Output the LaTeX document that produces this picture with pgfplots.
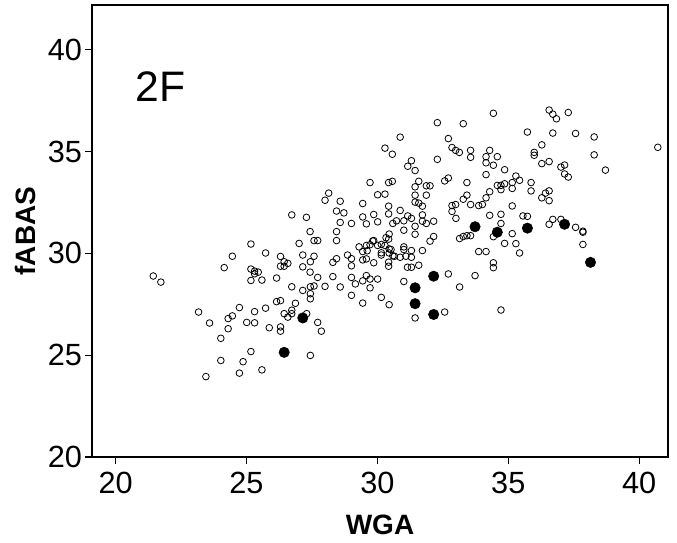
\documentclass[border=0pt]{standalone}
\usepackage{pgfplots}
\pgfplotsset{compat=1.18}
\usepackage{fontspec}
\setmainfont{Liberation Sans}
\usetikzlibrary{calc}
\begin{document}
\begin{tikzpicture}
\begin{axis}[
  scale only axis, width=432pt, height=339pt,
  xmin=19.1, xmax=41.1, ymin=20, ymax=42.2,
  xtick={20,25,30,35,40}, ytick={20,25,30,35,40},
  tick align=outside, xtick pos=bottom, ytick pos=left,
  major tick length=5pt,
  tick style={black, line width=0.8pt},
  axis line style={line width=0.8pt},
  ticklabel style={font=\fontsize{23}{23}\selectfont},
  xticklabel style={yshift=-3pt},
  yticklabel style={xshift=1pt},
  /pgf/number format/assume math mode=true,
  xlabel={\textbf{WGA}}, ylabel={\textbf{fABAS}},
  label style={font=\fontsize{21}{21}\selectfont},
  xlabel style={yshift=-9pt},
  ylabel style={yshift=2pt},
  clip=false,
]
\addplot[only marks, mark=o, mark size=2.5pt, mark options={line width=0.6pt, black}] coordinates {
(36.56,37.04) (36.70,36.84) (36.84,36.61) (37.29,36.92) (34.43,36.88) (32.29,36.42) (33.28,36.37)
(35.73,35.96) (36.70,35.91) (37.57,35.89) (38.28,35.72) (30.87,35.71) (32.71,35.64) (40.71,35.21)
(36.28,35.33) (30.29,35.17) (32.85,35.20) (32.99,35.06) (33.13,34.96) (33.56,35.06) (33.56,34.72)
(34.29,35.06) (34.15,34.75) (34.58,34.75) (35.99,34.96) (35.99,34.82) (38.28,34.84) (30.57,34.87)
(32.29,34.62) (31.30,34.55) (31.16,34.28) (31.44,34.07) (34.15,34.45) (34.43,34.33) (36.28,34.41)
(36.56,34.51) (37.01,34.24) (37.15,34.34) (38.71,34.09) (34.86,34.11) (34.15,33.87) (37.15,33.90)
(37.29,33.75) (32.57,33.56) (32.71,33.70) (35.29,33.80) (35.43,33.59) (29.72,33.48) (30.43,33.48)
(30.57,33.54) (31.58,33.54) (33.42,33.48) (35.15,33.48) (35.87,33.48) (34.58,33.34) (34.72,33.34)
(34.86,33.42) (34.29,33.03) (35.15,33.19) (31.44,33.27) (31.87,33.32) (32.01,33.32) (34.72,33.13)
(35.87,33.07) (36.56,33.07) (36.42,32.96) (28.14,32.96) (30.01,32.88) (30.29,32.91) (31.44,32.86)
(31.87,32.86) (33.42,32.86) (33.28,32.66) (34.15,32.73) (36.28,32.73) (36.56,32.59) (28.00,32.61)
(28.58,32.56) (31.44,32.52) (31.58,32.47) (31.72,32.32) (29.44,32.45) (30.43,32.32) (32.85,32.35)
(32.99,32.40) (33.56,32.40) (33.87,32.35) (34.01,32.40) (35.15,32.33) (28.44,32.08) (28.72,31.99)
(30.87,32.11) (32.85,32.06) (30.43,31.94) (31.16,31.84) (31.30,31.72) (31.72,31.89) (26.73,31.89)
(27.29,31.77) (29.44,31.79) (29.86,31.91) (34.29,31.87) (34.72,31.92) (35.56,31.84) (35.73,31.82)
(33.00,31.72) (30.73,31.60) (31.01,31.60) (30.59,31.47) (28.58,31.52) (29.01,31.47) (29.58,31.45)
(30.01,31.55) (31.72,31.58) (31.87,31.47) (32.15,31.58) (36.70,31.67) (36.56,31.43) (37.01,31.67)
(34.72,31.47) (31.44,31.33) (37.57,31.28) (37.85,31.09) (37.85,31.04) (31.01,31.14) (30.45,30.95)
(27.43,31.07) (28.44,31.07) (31.44,30.94) (32.15,30.83) (33.14,30.73) (33.28,30.83) (33.42,30.87)
(33.56,30.87) (34.43,30.82) (35.15,30.97) (27.58,30.63) (27.72,30.63) (28.44,30.63) (27.01,30.49)
(29.86,30.63) (30.43,30.70) (32.01,30.60) (25.17,30.46) (29.30,30.32) (29.58,30.39) (29.72,30.43)
(30.01,30.39) (30.15,30.44) (30.29,30.39) (31.01,30.32) (31.01,30.19) (34.86,30.49) (35.29,30.48)
(37.85,30.44) (29.44,30.09) (29.61,30.13) (30.15,30.03) (30.15,29.92) (30.45,30.22) (30.45,30.02)
(30.59,29.88) (31.30,30.14) (31.72,30.14) (33.87,30.09) (34.15,30.09) (35.43,30.02) (25.73,30.02)
(29.82,30.61) (30.33,30.77) (30.52,30.19) (30.65,29.86) (31.09,29.86)
(24.46,29.86) (26.30,29.85) (26.44,29.59) (26.30,29.37) (26.44,29.37) (26.58,29.51) (27.15,29.92)
(27.15,29.34) (27.58,29.86) (27.44,29.59) (28.86,29.92) (28.44,29.74) (28.30,29.56) (29.01,29.74)
(29.01,29.39) (29.44,29.68) (29.58,29.73) (29.86,29.54) (30.43,29.57) (30.43,29.37) (30.87,29.81)
(31.30,29.81) (31.15,29.32) (31.30,29.32) (31.58,29.42) (34.43,29.54) (34.43,29.30) (24.15,29.30)
(25.17,29.23) (25.31,29.13) (25.45,29.08) (25.31,29.00) (25.17,28.67) (25.59,28.69) (21.44,28.89)
(21.73,28.59) (26.15,28.79) (27.43,29.08) (27.72,28.82) (28.30,28.86) (29.01,28.82) (29.58,28.91)
(29.72,28.74) (29.44,28.65) (30.01,28.74) (29.16,28.50) (29.72,28.31) (31.01,28.62) (32.71,28.99)
(33.73,28.91) (33.14,28.35) (26.73,28.36) (27.15,28.18) (27.44,28.36) (27.58,28.40) (28.00,28.38)
(28.58,28.35) (27.44,28.02) (27.44,27.77) (29.01,27.94) (30.15,27.84) (26.15,27.63) (26.30,27.68)
(26.87,27.55) (29.44,27.56) (30.45,27.48) (24.73,27.34) (25.73,27.31) (23.17,27.12) (25.31,27.14)
(26.73,27.21) (26.44,27.04) (26.58,26.87) (26.73,27.04) (27.30,27.04) (24.30,26.80) (24.46,26.93)
(23.59,26.58) (25.01,26.61) (25.31,26.59) (24.30,26.30) (25.87,26.35) (26.30,26.39) (26.30,26.18)
(27.72,26.61) (27.86,26.18) (32.57,27.12) (31.44,26.83) (34.72,27.22) (24.02,25.83) (25.17,25.18)
(27.44,24.99) (24.02,24.74) (24.87,24.68) (24.73,24.12) (25.59,24.28) (23.45,23.95)
};
\addplot[only marks, mark=*, mark size=3.9pt, mark options={black, fill=black}] coordinates {
(33.73,31.31) (34.58,31.04) (35.73,31.24) (37.15,31.43) (38.14,29.56) (32.15,28.88)
(31.44,28.31) (31.44,27.53) (32.15,27.00) (27.15,26.83) (26.44,25.14)
};
\node[anchor=west, inner sep=0pt, font=\fontsize{32}{32}\selectfont] at (axis cs:20.75,38.2) {2F};
\end{axis}
\pgfresetboundingbox
\useasboundingbox ($(current axis.south west)+(-69pt,-64pt)$) rectangle ($(current axis.north east)+(6.75pt,3.75pt)$);
\end{tikzpicture}
\end{document}
